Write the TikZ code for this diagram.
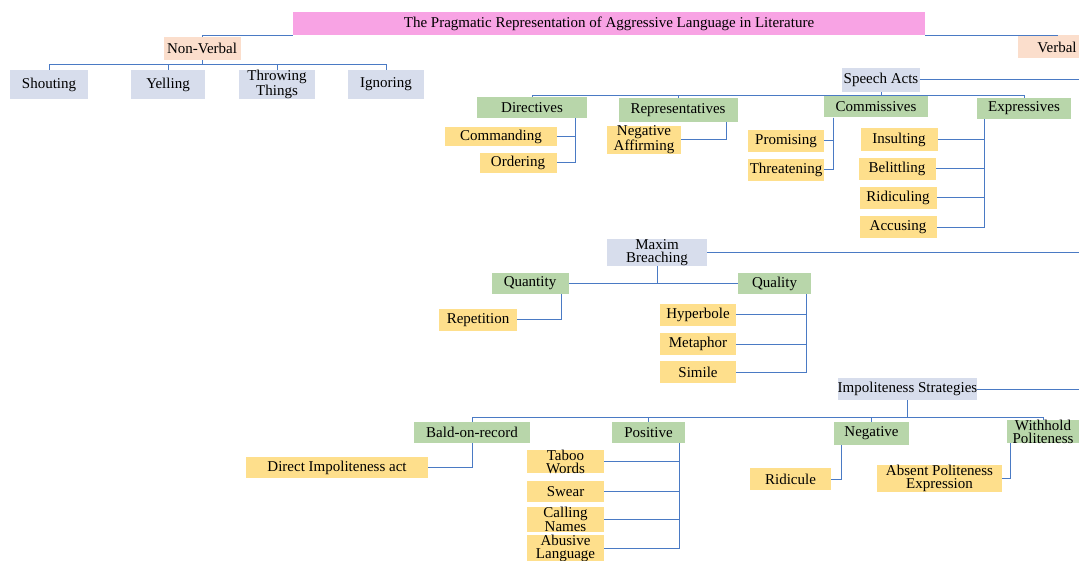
\documentclass[tikz,border=0pt]{standalone}
\usepackage{fontspec}
\setmainfont{Liberation Serif}
\definecolor{pinkfill}{RGB}{248,163,228}
\definecolor{peachfill}{RGB}{251,222,204}
\definecolor{grayfill}{RGB}{215,221,236}
\definecolor{greenfill}{RGB}{184,214,170}
\definecolor{yellowfill}{RGB}{254,223,140}
\definecolor{linkblue}{RGB}{74,122,196}
\begin{document}
\begin{tikzpicture}[x=1pt, y=-1pt,
    every node/.style = {shape=rectangle, align=center, inner sep=0pt,
      minimum height=22pt, font=\fontsize{15}{13}\selectfont},
    headbox/.style = {fill=pinkfill, minimum width=632pt, minimum height=23pt},
    sidebox/.style = {fill=peachfill, minimum width=77pt, minimum height=23pt},
    groupbox/.style = {fill=grayfill},
    typebox/.style = {fill=greenfill, minimum height=21pt},
    itembox/.style = {fill=yellowfill, minimum width=77pt},
    link/.style = {draw=linkblue, line width=1pt}]
    \useasboundingbox (0,0) rectangle (1079,561);

    \node[headbox] (title) at (609,23.5) {The Pragmatic Representation of Aggressive Language in Literature};
    \node[sidebox] (nonverbal) at (202,48.5) {Non-Verbal};
    \node[sidebox, minimum width=78pt] (verbal) at (1057,47) {Verbal};
    \draw[link] (title.south west) -| (nonverbal.north);
    \draw[link] (title.south east) -| (verbal.north);

    \node[groupbox, minimum width=78pt, minimum height=29pt] (shouting) at (49,84.5) {Shouting};
    \node[groupbox, minimum width=74pt, minimum height=29pt] (yelling) at (168,84.5) {Yelling};
    \node[groupbox, minimum width=76pt, minimum height=29pt] (throwing) at (277,84.5) {Throwing\\[1pt]Things};
    \node[groupbox, minimum width=76pt, minimum height=29pt] (ignoring) at (386,84.5) {Ignoring};
    \foreach \n in {shouting,yelling,throwing,ignoring}
        \draw[link] (nonverbal.south) -- ++(0,4.5) -| (\n.north);

    \node[groupbox, minimum width=78pt, minimum height=24pt] (speechacts) at (881,80) {Speech Acts};
    \coordinate (speechacts-out) at (1079,80);
    \draw[link] (speechacts.east) -- (speechacts-out);
    \node[typebox, minimum width=110pt] (directives) at (532,107.5) {Directives};
    \node[typebox, minimum width=119pt, minimum height=24pt] (representatives) at (678,110) {Representatives};
    \node[typebox, minimum width=104pt] (commissives) at (876,107) {Commissives};
    \node[typebox, minimum width=94pt] (expressives) at (1024,108.5) {Expressives};
    \foreach \n in {directives,representatives,commissives,expressives}
        \draw[link] (speechacts.south) -- ++(0,3) -| (\n.north);

    \node[itembox, minimum width=112pt, minimum height=19pt] (commanding) at (501,136.5) {Commanding};
    \node[itembox, minimum height=20pt] (ordering) at (518,163) {Ordering};
    \foreach \n in {commanding,ordering}
        \draw[link] ([xshift=-12pt]directives.south east) |- (\n.east);
    \node[itembox, minimum width=74pt, minimum height=24pt] (negaffirming) at (644,140) {Negative\\Affirming};
    \draw[link] ([xshift=-11pt]representatives.south east) |- (negaffirming.east);
    \node[itembox, minimum width=76pt] (promising) at (786,141) {Promising};
    \node[itembox, minimum width=76pt] (threatening) at (786,170) {Threatening};
    \foreach \n in {promising,threatening}
        \draw[link] ([xshift=10pt]commissives.south west) |- (\n.east);
    \node[itembox, minimum height=23pt] (insulting) at (899,140) {Insulting};
    \node[itembox] (belittling) at (897,169) {Belittling};
    \node[itembox] (ridiculing) at (898,198) {Ridiculing};
    \node[itembox] (accusing) at (898,227.5) {Accusing};
    \foreach \n in {insulting,belittling,ridiculing,accusing}
        \draw[link] ([xshift=8pt]expressives.south west) |- (\n.east);

    \node[groupbox, minimum width=100pt, minimum height=24pt] (maxim) at (657,252.5) {Maxim\\Breaching};
    \coordinate (maxim-out) at (1079,252.5);
    \draw[link] (maxim.east) -- (maxim-out);
    \node[typebox, minimum width=77pt] (quantity) at (530,283.5) {Quantity};
    \node[typebox, minimum width=73pt] (quality) at (774.5,283.5) {Quality};
    \draw[link] (quantity.east) -- (quality.west);
    \draw[link] (maxim.south) -- (maxim.south |- quantity.east);
    \node[itembox, minimum width=78pt] (repetition) at (478,320) {Repetition};
    \draw[link] ([xshift=-7pt]quantity.south east) |- (repetition.east);
    \node[itembox, minimum width=76pt] (hyperbole) at (698,315) {Hyperbole};
    \node[itembox, minimum width=76pt] (metaphor) at (698,344) {Metaphor};
    \node[itembox, minimum width=76pt] (simile) at (698,372) {Simile};
    \foreach \n in {hyperbole,metaphor,simile}
        \draw[link] ([xshift=-5pt]quality.south east) |- (\n.east);

    \node[groupbox, minimum width=139pt] (impoliteness) at (907.5,389) {Impoliteness Strategies};
    \coordinate (impoliteness-out) at (1079,389);
    \draw[link] (impoliteness.east) -- (impoliteness-out);
    \node[typebox, minimum width=116pt] (bald) at (472,432.5) {Bald-on-record};
    \node[typebox, minimum width=73pt] (positive) at (648.5,432.5) {Positive};
    \node[typebox, minimum width=75pt, minimum height=23pt] (negative) at (871.5,433.5) {Negative};
    \node[typebox, minimum width=72pt, minimum height=23pt] (withhold) at (1043,431.5) {Withhold\\Politeness};
    \foreach \n in {bald,positive,negative,withhold}
        \draw[link] (impoliteness.south) -- ++(0,17) -| (\n.north);

    \node[itembox, minimum width=182pt, minimum height=21pt] (direct) at (337,467.5) {Direct Impoliteness act};
    \draw[link] (bald.south) |- (direct.east);
    \node[itembox, minimum height=23pt] (taboo) at (565.5,461.5) {Taboo\\Words};
    \node[itembox, minimum height=21pt] (swear) at (565.5,491.5) {Swear};
    \node[itembox, minimum height=23pt] (calling) at (565.5,519.5) {Calling\\Names};
    \node[itembox, minimum height=23pt] (abusive) at (565.5,548.5) {Abusive\\Language};
    \foreach \n in {taboo,swear,calling,abusive}
        \draw[link] ([xshift=-6pt]positive.south east) |- (\n.east);
    \node[itembox, minimum width=81pt] (ridicule) at (790.5,479) {Ridicule};
    \draw[link] ([xshift=8pt]negative.south west) |- (ridicule.east);
    \node[itembox, minimum width=125pt, minimum height=23pt] (absent) at (939.5,478.5) {Absent Politeness\\Expression};
    \draw[link] ([xshift=4pt]withhold.south west) |- (absent.east);
\end{tikzpicture}
\end{document}
